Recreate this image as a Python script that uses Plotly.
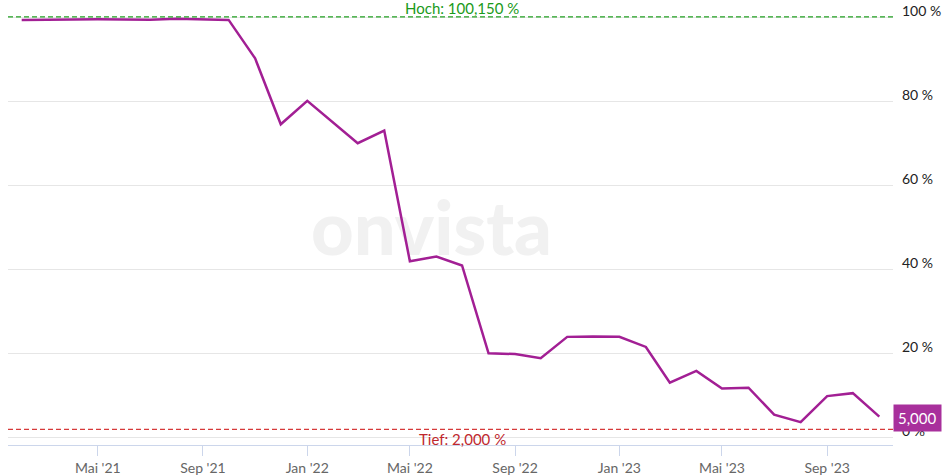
import plotly.graph_objects as go

# ---- data ----
dates = [
    "2021-02-01", "2021-03-01", "2021-04-01", "2021-05-01", "2021-06-01", "2021-07-01",
    "2021-08-01", "2021-09-01", "2021-10-01", "2021-11-01", "2021-12-01",
    "2022-01-01", "2022-02-01", "2022-03-01", "2022-04-01", "2022-05-01", "2022-06-01",
    "2022-07-01", "2022-08-01", "2022-09-01", "2022-10-01", "2022-11-01", "2022-12-01",
    "2023-01-01", "2023-02-01", "2023-03-01", "2023-04-01", "2023-05-01", "2023-06-01",
    "2023-07-01", "2023-08-01", "2023-09-01", "2023-10-01", "2023-11-01",
]
values = [
    99.45, 99.5, 99.65, 99.6, 99.55, 99.5,
    99.7, 99.5, 99.45, 90.3, 74.6,
    80.2, 75.0, 70.1, 73.1, 42.0, 43.1,
    41.0, 20.1, 19.9, 18.9, 24.0, 24.1,
    24.0, 21.6, 13.1, 15.9, 11.7, 11.9,
    5.5, 3.7, 9.9, 10.6, 5.0,
]
x_tick_vals = ["2021-05-01", "2021-09-01", "2022-01-01", "2022-05-01",
               "2022-09-01", "2023-01-01", "2023-05-01", "2023-09-01"]
x_tick_text = ["Mai '21", "Sep '21", "Jan '22", "Mai '22",
               "Sep '22", "Jan '23", "Mai '23", "Sep '23"]
y_tick_vals = [0, 20, 40, 60, 80, 100]
y_tick_text = ["0 %", "20 %", "40 %", "60 %", "80 %", "100 %"]
high_value = 100.15
low_value = 2.0
high_label = "Hoch: 100,150 %"
low_label = "Tief: 2,000 %"
last_label = "5,000"

FONT = "Lato"
LINE_COLOR = "#a21f94"

fig = go.Figure()
fig.add_trace(go.Scatter(
    x=dates, y=values, mode="lines",
    line=dict(color=LINE_COLOR, width=2.5),
    hoverinfo="skip", showlegend=False,
))

# high / low reference lines
fig.add_shape(type="line", xref="paper", x0=0, x1=1, yref="y", y0=high_value, y1=high_value,
              line=dict(color="#22a022", width=1.2, dash="5px,3px"), layer="above")
fig.add_shape(type="line", xref="paper", x0=0, x1=1, yref="y", y0=low_value, y1=low_value,
              line=dict(color="#d63a3a", width=1.2, dash="5px,3px"), layer="above")

# watermark
fig.add_shape(type="rect", xref="paper", yref="paper", x0=0.18, x1=0.777, y0=0.4, y1=0.6,
              line=dict(width=0), fillcolor="rgba(0,0,0,0)", layer="below",
              label=dict(text="onvista", font=dict(family=FONT, size=74, color="#f1f1f1", weight=900),
                         textposition="middle center"))

fig.add_annotation(xref="paper", x=0.513, yref="y", y=high_value, yanchor="bottom", yshift=-2,
                   text=high_label, showarrow=False,
                   font=dict(family=FONT, size=15, color="#1a9a1a"))
fig.add_annotation(xref="paper", x=0.513, yref="y", y=low_value, yanchor="top", yshift=1,
                   text=low_label, showarrow=False,
                   font=dict(family=FONT, size=15, color="#c0282e"))
fig.add_annotation(xref="paper", x=1.0, xanchor="left", xshift=0, yref="y", y=values[-1], yshift=-1,
                   text=last_label, showarrow=False, bgcolor="#a8309c", borderpad=4,
                   font=dict(family=FONT, size=15, color="#ffffff"))

fig.update_layout(
    width=947, height=475,
    margin=dict(l=8, r=54, t=5, b=30, autoexpand=False),
    paper_bgcolor="white", plot_bgcolor="white",
    font=dict(family=FONT),
    showlegend=False,
    xaxis=dict(
        type="date", range=["2021-01-16", "2023-11-17"], automargin=False,
        tickvals=x_tick_vals, ticktext=x_tick_text,
        showgrid=False, zeroline=False,
        showline=True, linecolor="#ccd6eb", linewidth=1,
        ticks="outside", ticklen=10, tickcolor="#ccd6eb", tickwidth=1,
        tickfont=dict(family=FONT, size=14, color="#666666"),
    ),
    yaxis=dict(
        side="right", range=[-1.74, 103.0], automargin=False,
        tickvals=y_tick_vals, ticktext=y_tick_text,
        showgrid=True, gridcolor="#e6e6e6", gridwidth=1,
        zeroline=False, showline=False, ticks="",
        ticklabelshift=-7, ticklabelstandoff=8,
        tickfont=dict(family=FONT, size=14, color="#222222"),
    ),
)

fig.write_html("out.html", config={"displayModeBar": False},
               post_script="document.body.style.margin='0';")
